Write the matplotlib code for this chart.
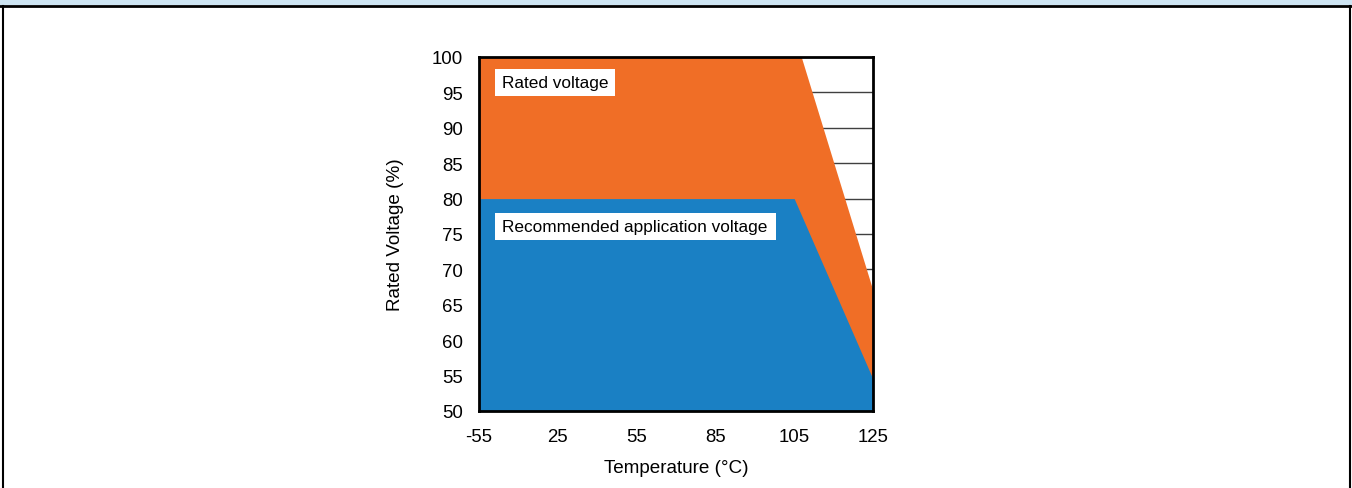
import matplotlib
matplotlib.use("Agg")
import matplotlib.pyplot as plt
from matplotlib.patches import Rectangle
from matplotlib.lines import Line2D

plt.rcParams['font.family'] = ['Liberation Sans', 'DejaVu Sans']

# Data
temp_labels = ["-55", "25", "55", "85", "105", "125"]
# category-index positions (ticks evenly spaced)
rated_x = [0, 4.09, 5]
rated_y = [100, 100, 67]
recommended_x = [0, 4.0, 5]
recommended_y = [80, 80, 54.5]
y_ticks = [50, 55, 60, 65, 70, 75, 80, 85, 90, 95, 100]
label_rated = "Rated voltage"
label_recommended = "Recommended application voltage"

orange = "#F06E26"
blue = "#1A80C4"

fig = plt.figure(figsize=(13.52, 4.89), dpi=100)
fig.patch.set_facecolor("white")

# header band & frame
fig.patches.append(Rectangle((0, 1 - 5.5/489), 1, 5.5/489, transform=fig.transFigure,
                             facecolor="#CDE4F2", edgecolor="none", zorder=0))
fig.lines.append(Line2D([0, 1], [1 - 6.8/489, 1 - 6.8/489], transform=fig.transFigure,
                        color="black", lw=2.0))
fig.lines.append(Line2D([2.5/1352, 2.5/1352], [0, 1 - 7/489], transform=fig.transFigure,
                        color="black", lw=1.5))
fig.lines.append(Line2D([1 - 2.5/1352, 1 - 2.5/1352], [0, 1 - 7/489], transform=fig.transFigure,
                        color="black", lw=1.5))

ax = fig.add_axes([479/1352, 1 - 412/489, 394/1352, 354/489])
ax.set_xlim(0, 5)
ax.set_ylim(50, 100)

ax.fill_between(rated_x, 50, rated_y, color=orange, lw=0, zorder=2)
ax.fill_between(recommended_x, 50, recommended_y, color=blue, lw=0, zorder=3)

for y in y_ticks[1:-1]:
    ax.axhline(y, color="#404040", lw=1.0, zorder=1)

ax.set_xticks(range(len(temp_labels)))
ax.set_xticklabels(temp_labels)
ax.set_yticks(y_ticks)
ax.tick_params(axis="both", length=0, labelsize=13.4)
ax.tick_params(axis="y", pad=11.5)
ax.tick_params(axis="x", pad=12.5)
for s in ax.spines.values():
    s.set_linewidth(2)
    s.set_color("black")
    s.set_zorder(5)

ax.set_xlabel("Temperature (°C)", fontsize=13.6, labelpad=10)
ax.set_ylabel("Rated Voltage (%)", fontsize=13.6, labelpad=20)

# label boxes
ax.add_patch(Rectangle((0.0406, 0.8898), 0.3044, 0.0762, transform=ax.transAxes,
                       facecolor="white", edgecolor="none", zorder=6))
ax.add_patch(Rectangle((0.0406, 0.4830), 0.7132, 0.0763, transform=ax.transAxes,
                       facecolor="white", edgecolor="none", zorder=6))
ax.text(0.0584, 0.928, label_rated, fontsize=12.4, va="center", ha="left",
        transform=ax.transAxes, zorder=7)
ax.text(0.0584, 0.5212, label_recommended, fontsize=12.4, va="center", ha="left",
        transform=ax.transAxes, zorder=7)

fig.savefig("out.png", dpi=100)
